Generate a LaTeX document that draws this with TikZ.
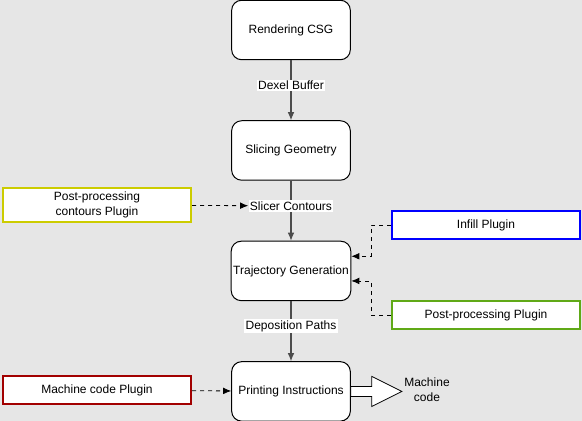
\documentclass[tikz,border=0pt]{standalone}
\usepackage{fontspec}
\setmainfont{Liberation Sans}
\usetikzlibrary{arrows.meta, positioning}

\definecolor{bggray}{HTML}{E6E6E6}
\definecolor{plugyellow}{HTML}{CCCC00}
\definecolor{plugblue}{HTML}{0000FF}
\definecolor{pluggreen}{HTML}{60A917}
\definecolor{plugred}{HTML}{A20000}

\begin{document}
\begin{tikzpicture}[
    x=0.75pt, y=-0.75pt,
    font=\fontsize{9}{11}\selectfont,
    node distance=45pt,
    stage/.style={rectangle, draw=black, fill=white, line width=0.75pt, minimum width=89pt, minimum height=44.6pt, inner xsep=1.5pt, rounded corners=7.5pt, align=center},
    plugin/.style={rectangle, draw=#1, fill=white, line width=1.5pt, minimum width=141pt, minimum height=21pt, align=center},
    flow/.style={->, >={Latex[length=6pt, width=5pt]}, draw=black!70, line width=0.8pt},
    plugarrow/.style={->, >={Latex[length=6pt, width=5pt]}, dashed, draw=black, line width=0.6pt},
    edgelabel/.style={fill=white, inner sep=1pt}
]

% Background
\fill[bggray] (0,0) rectangle (582,421);
\useasboundingbox (0,0) rectangle (582,421);

% Main pipeline
\node[stage] (csg) at (291,30) {Rendering CSG};
\node[stage, below=of csg] (slice) {Slicing Geometry};
\node[stage, below=of slice] (traj) {Trajectory Generation};
\node[stage, below=of traj] (print) {Printing Instructions};

% Pipeline arrows
\draw[flow] (csg) -- node[edgelabel, pos=0.42] (dexel) {Dexel Buffer} (slice);
\draw[flow] (slice) -- node[edgelabel, pos=0.42] (contours) {Slicer Contours} (traj);
\draw[flow] (traj) -- node[edgelabel, pos=0.42] (paths) {Deposition Paths} (print);

% Plugins
\node[plugin=plugyellow] (postcont) at (97,205) {Post-processing\\contours Plugin};
\node[plugin=plugblue] (infill) at (486,225) {Infill Plugin};
\node[plugin=pluggreen] (postproc) at (486,315) {Post-processing Plugin};
\node[plugin=plugred] (machplug) at (97,390) {Machine code Plugin};

% Plugin arrows
\draw[plugarrow] (postcont) -- (contours);
\draw[plugarrow] (infill.west) -- ++(-20,0) |- ([yshift=11pt]traj.east);
\draw[plugarrow] (postproc.west) -- ++(-20,0) |- ([yshift=-7.5pt]traj.east);
\draw[plugarrow] (machplug) -- (print);

% Output
\node[align=center] (output) at (427,390) {Machine\\code};
\draw[fill=white, line width=0.6pt] (print.east) ++(0,-5) -- ++(21,0) -- ++(0,-10)
    -- ++(30,15) -- ++(-30,15) -- ++(0,-10) -- ++(-21,0) -- cycle;

\end{tikzpicture}
\end{document}
